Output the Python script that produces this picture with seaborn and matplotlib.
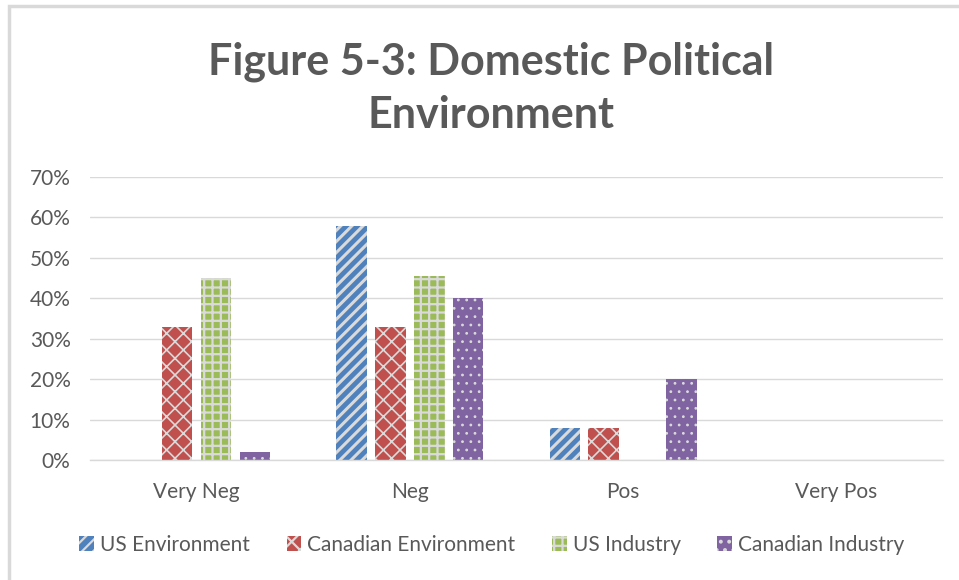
import matplotlib
matplotlib.use("Agg")
import matplotlib.pyplot as plt
from matplotlib.patches import Patch, Rectangle
import seaborn as sns
import pandas as pd

# Survey responses by group
categories = ["Very Neg", "Neg", "Pos", "Very Pos"]
series = ["US Environment", "Canadian Environment", "US Industry", "Canadian Industry"]
us_environment = [0.00, 0.58, 0.08, 0.00]
canadian_environment = [0.33, 0.33, 0.08, 0.00]
us_industry = [0.45, 0.455, 0.00, 0.00]
canadian_industry = [0.02, 0.40, 0.20, 0.00]
y_ticks = [0.0, 0.1, 0.2, 0.3, 0.4, 0.5, 0.6, 0.7]
y_tick_labels = ["0%", "10%", "20%", "30%", "40%", "50%", "60%", "70%"]

colors = ["#4F81BD", "#C0504D", "#9BBB59", "#8064A2"]
hatches = ["///", "xx", "++", ".."]
hatch_widths = [2.2, 1.2, 1.6, 0.8]
hatch_color = "#dadada"
text_color = "#595959"

sns.set_theme(style="white")
plt.rcParams["font.family"] = ["Lato", "DejaVu Sans"]
plt.rcParams["hatch.linewidth"] = 1.6
plt.rcParams["hatch.color"] = hatch_color

values = [us_environment, canadian_environment, us_industry, canadian_industry]
df = pd.DataFrame({
    "Category": [c for _ in series for c in categories],
    "Series": [s for s in series for _ in categories],
    "Share": [v for vals in values for v in vals],
})

fig = plt.figure(figsize=(9.59, 5.8), dpi=100)
ax = fig.add_axes([90 / 959, 1 - 460 / 580, (943 - 90) / 959, (460 - 177) / 580])

sns.barplot(data=df, x="Category", y="Share", hue="Series", order=categories,
            hue_order=series, palette=colors, width=0.73, gap=0.22,
            saturation=1, ax=ax, legend=False)


def style_patch(p, hatch, hw):
    p.set_hatch(hatch)
    p.set_edgecolor(hatch_color)
    p.set_linewidth(0)
    if hasattr(p, "set_hatch_linewidth"):
        p.set_hatch_linewidth(hw)


for container, hatch, hw in zip(ax.containers, hatches, hatch_widths):
    for bar in container:
        style_patch(bar, hatch, hw)

ax.set_ylim(0, 0.7)
ax.set_xlim(-0.5, 3.5)
ax.set_yticks(y_ticks)
ax.set_yticklabels(y_tick_labels)
ax.set_xlabel("")
ax.set_ylabel("")
ax.yaxis.grid(True, color="#d9d9d9", linewidth=1)
ax.set_axisbelow(True)
for side in ["top", "right", "left"]:
    ax.spines[side].set_visible(False)
ax.spines["bottom"].set_color("#d9d9d9")
ax.spines["bottom"].set_linewidth(1)
ax.tick_params(axis="y", length=0, pad=14, labelsize=15, labelcolor=text_color)
ax.tick_params(axis="x", length=0, pad=16, labelsize=15, labelcolor=text_color)

handles = []
for c, h, hw, s in zip(colors, hatches, hatch_widths, series):
    p = Patch(facecolor=c, label=s)
    style_patch(p, h, hw)
    handles.append(p)
leg = fig.legend(handles=handles, loc="center", bbox_to_anchor=(0.513, 1 - 545 / 580),
                 ncol=4, frameon=False, fontsize=15, handlelength=0.7,
                 handleheight=0.7, handletextpad=0.3, columnspacing=1.75)
for t in leg.get_texts():
    t.set_color(text_color)

fig.text(0.512, 1 - 88 / 580, "Figure 5-3: Domestic Political\nEnvironment",
         ha="center", va="center", fontsize=31, fontweight="bold",
         color=text_color, linespacing=1.38)

# Chart frame
fig.patches.append(Rectangle((9 / 959, -0.1), 1.1, 1 - 6 / 580 + 0.1,
                             transform=fig.transFigure, fill=False,
                             edgecolor="#d9d9d9", linewidth=2.5))

fig.savefig("out.png", dpi=100)
